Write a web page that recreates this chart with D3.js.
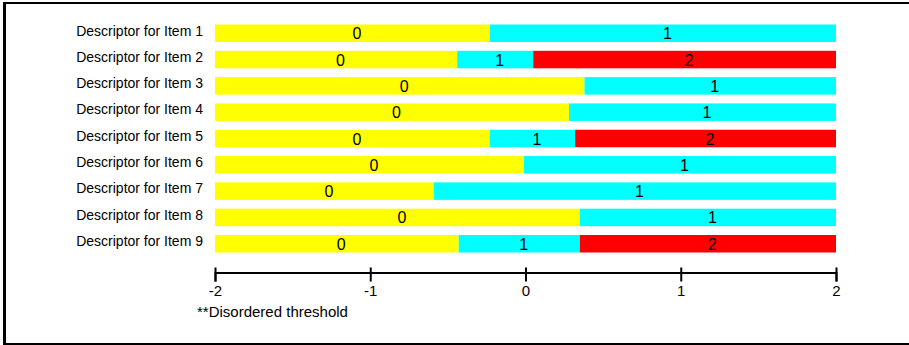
<!DOCTYPE html>
<html>
<head>
<meta charset="utf-8">
<script src="https://cdn.jsdelivr.net/npm/d3@7"></script>
<style>
  body { margin: 0; background: #fff; }
  svg { display: block; font-family: "Liberation Sans", Arial, sans-serif; }
</style>
</head>
<body>
<div id="chart"></div>
<script>
const width = 909;
const height = 345;

// item labels and the threshold boundaries
const items = [
  "Descriptor for Item 1", "Descriptor for Item 2", "Descriptor for Item 3",
  "Descriptor for Item 4", "Descriptor for Item 5", "Descriptor for Item 6",
  "Descriptor for Item 7", "Descriptor for Item 8", "Descriptor for Item 9"
];
const boundary01 = [-0.23, -0.44, 0.38, 0.28, -0.23, -0.01, -0.59, 0.35, -0.43];
const boundary12 = [null, 0.05, null, null, 0.32, null, null, null, 0.35];
const xDomain = [-2, 2];
const tickValues = [-2, -1, 0, 1, 2];
const categoryColors = ["#ffff00", "#00ffff", "#ff0000"];
const footnote = "**Disordered threshold";

const svg = d3.select("#chart").append("svg")
  .attr("width", width)
  .attr("height", height);

// frame (left, top, bottom edges)
svg.append("rect").attr("x", 3).attr("y", 2).attr("width", 3).attr("height", 343).attr("fill", "#000");
svg.append("rect").attr("x", 3).attr("y", 2).attr("width", 906).attr("height", 2).attr("fill", "#000");
svg.append("rect").attr("x", 3).attr("y", 343).attr("width", 906).attr("height", 2).attr("fill", "#000");

const x = d3.scaleLinear().domain(xDomain).range([215, 836]);
const y = d3.scaleBand().domain(items).range([24.5, 252.5]).paddingInner(0.335).paddingOuter(0);

// build segments per item
const segments = [];
items.forEach((name, i) => {
  const cuts = [xDomain[0], boundary01[i]];
  if (boundary12[i] != null) cuts.push(boundary12[i]);
  cuts.push(xDomain[1]);
  for (let k = 0; k < cuts.length - 1; k++) {
    segments.push({ item: name, cat: k, x0: cuts[k], x1: cuts[k + 1] });
  }
});

svg.selectAll(".seg")
  .data(segments)
  .enter()
  .append("rect")
  .attr("class", "seg")
  .attr("x", d => x(d.x0))
  .attr("y", d => y(d.item))
  .attr("width", d => x(d.x1) - x(d.x0))
  .attr("height", y.bandwidth())
  .attr("fill", d => categoryColors[d.cat]);

svg.selectAll(".seglabel")
  .data(segments)
  .enter()
  .append("text")
  .attr("class", "seglabel")
  .attr("x", d => (x(d.x0) + x(d.x1)) / 2)
  .attr("y", d => y(d.item) + y.bandwidth() / 2 + 6)
  .style("font-size", "16px")
  .attr("fill", "#000")
  .text(d => d.cat);

svg.selectAll(".itemlabel")
  .data(items)
  .enter()
  .append("text")
  .attr("class", "itemlabel")
  .attr("x", 203)
  .attr("y", d => y(d) + 11)
  .attr("text-anchor", "end")
  .style("font-size", "14px")
  .attr("fill", "#000")
  .text(d => d);

// axis
const axis = svg.append("g")
  .attr("transform", "translate(0,272.5)")
  .call(d3.axisBottom(x).tickValues(tickValues).tickSize(9).tickPadding(4).tickFormat(d3.format("d")));
axis.select(".domain").attr("stroke", "#000").attr("stroke-width", 2);
axis.selectAll(".tick line").attr("y1", -5).attr("stroke", "#000").attr("stroke-width", 2);
axis.selectAll(".tick text")
  .style("font-size", "15px")
  .style("font-family", "'Liberation Sans', Arial, sans-serif")
  .attr("fill", "#000")
  .text(d => d < 0 ? "-" + Math.abs(d) : d);

svg.append("text")
  .attr("x", 197)
  .attr("y", 317)
  .style("font-size", "15px")
  .attr("fill", "#000")
  .text(footnote);
</script>
</body>
</html>
